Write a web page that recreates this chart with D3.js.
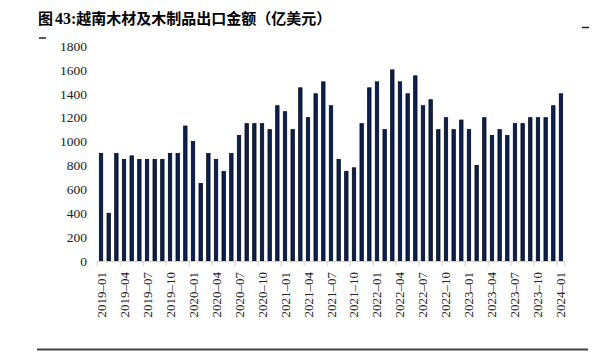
<!DOCTYPE html>
<html>
<head>
<meta charset="utf-8">
<script src="https://cdn.jsdelivr.net/npm/d3@7"></script>
<style>
    body { margin: 0; background: #fff; }
    #chart { width: 598px; height: 360px; }
</style>
</head>
<body>
<div id="chart"></div>
<script>

// months shown on the x axis (one bar per month)
let months = [
    "2019-01","2019-02","2019-03","2019-04","2019-05","2019-06","2019-07","2019-08","2019-09","2019-10","2019-11","2019-12",
    "2020-01","2020-02","2020-03","2020-04","2020-05","2020-06","2020-07","2020-08","2020-09","2020-10","2020-11","2020-12",
    "2021-01","2021-02","2021-03","2021-04","2021-05","2021-06","2021-07","2021-08","2021-09","2021-10","2021-11","2021-12",
    "2022-01","2022-02","2022-03","2022-04","2022-05","2022-06","2022-07","2022-08","2022-09","2022-10","2022-11","2022-12",
    "2023-01","2023-02","2023-03","2023-04","2023-05","2023-06","2023-07","2023-08","2023-09","2023-10","2023-11","2023-12",
    "2024-01"
];

// export value
let exportValues = [
    900, 400, 900, 850, 880, 850, 850, 850, 850, 900, 900, 1130,
    1000, 650, 900, 850, 750, 900, 1050, 1150, 1150, 1150, 1100, 1300,
    1250, 1100, 1450, 1200, 1400, 1500, 1300, 850, 750, 780, 1150, 1450,
    1500, 1100, 1600, 1500, 1400, 1550, 1300, 1350, 1100, 1200, 1100, 1180,
    1100, 800, 1200, 1050, 1100, 1050, 1150, 1150, 1200, 1200, 1200, 1300,
    1400
];

let yTicks = [0, 200, 400, 600, 800, 1000, 1200, 1400, 1600, 1800];

// every third month gets a label
let xLabels = months.filter((d, i) => i % 3 === 0);

let chartTitle = "越南木材及木制品出口金额（亿美元）";


class BarVis {

    constructor(parentElement, labels, values) {
        this.parentElement = parentElement;
        this.labels = labels;
        this.values = values;
        this.initVis();
    }

    initVis() {
        let vis = this;

        vis.width = 598;
        vis.height = 360;

        vis.svg = d3.select("#" + vis.parentElement).append("svg")
            .attr("width", vis.width)
            .attr("height", vis.height);

        // title
        let title = vis.svg.append("text")
            .attr("x", 38)
            .attr("y", 24)
            .style("font-family", "'Noto Sans CJK SC', sans-serif")
            .style("font-weight", "bold")
            .style("font-size", "15px")
            .attr("fill", "#000");
        title.append("tspan").text("图");
        title.append("tspan")
            .style("font-family", "'Liberation Serif', serif")
            .style("font-size", "16px")
            .attr("dx", 2)
            .text("43:");
        title.append("tspan").text(chartTitle);

        // little marks at the corners of the title block
        vis.svg.append("line")
            .attr("x1", 39).attr("x2", 46).attr("y1", 38).attr("y2", 38)
            .attr("stroke", "#222").attr("stroke-width", 1.5);
        vis.svg.append("line")
            .attr("x1", 582).attr("x2", 589).attr("y1", 27.5).attr("y2", 27.5)
            .attr("stroke", "#222").attr("stroke-width", 1.5);

        // bottom rule
        vis.svg.append("line")
            .attr("x1", 37).attr("x2", 588).attr("y1", 349.5).attr("y2", 349.5)
            .attr("stroke", "#444").attr("stroke-width", 2);

        vis.x = d3.scaleBand()
            .domain(vis.labels)
            .range([97.2, 564.8])
            .paddingInner(0.56)
            .paddingOuter(0.28);

        vis.y = d3.scaleLinear()
            .domain([0, 1800])
            .range([261, 46]);

        // y axis, labels only
        let yAxis = d3.axisLeft(vis.y)
            .tickValues(yTicks)
            .tickFormat(d3.format("d"))
            .tickSize(0)
            .tickPadding(0);

        vis.svg.append("g")
            .attr("transform", "translate(87,0)")
            .call(yAxis)
            .call(g => g.select(".domain").remove())
            .call(g => g.selectAll("text")
                .style("font-family", "'Liberation Serif', serif")
                .style("font-size", "13.5px")
                .attr("fill", "#222"));

        // bars
        vis.svg.append("g")
            .selectAll("rect")
            .data(vis.values)
            .enter().append("rect")
                .attr("x", (d, i) => vis.x(vis.labels[i]))
                .attr("y", d => vis.y(d))
                .attr("width", vis.x.bandwidth())
                .attr("height", d => vis.y(0) - vis.y(d))
                .attr("fill", "#0b2152")
                .attr("stroke", "#050a14")
                .attr("stroke-width", 0.8);

        // x axis baseline and ticks between every third month
        let step = vis.x.step();
        let x0 = vis.x.range()[0];
        vis.svg.append("line")
            .attr("x1", x0).attr("x2", vis.x.range()[1])
            .attr("y1", 261.5).attr("y2", 261.5)
            .attr("stroke", "#d0d0d0");

        let tickPos = d3.range(0, vis.labels.length + 1, 3).map(i => x0 + i * step);
        tickPos.push(vis.x.range()[1]);
        vis.svg.append("g")
            .selectAll("line")
            .data(tickPos)
            .enter().append("line")
                .attr("x1", d => d).attr("x2", d => d)
                .attr("y1", 261.5).attr("y2", 266)
                .attr("stroke", "#d0d0d0");

        // rotated month labels
        vis.svg.append("g")
            .selectAll("text")
            .data(xLabels)
            .enter().append("text")
                .attr("transform", d => `translate(${vis.x(d) + vis.x.bandwidth() / 2 + 4.5}, 272) rotate(-90)`)
                .attr("text-anchor", "end")
                .style("font-family", "'Liberation Serif', serif")
                .style("font-size", "13px")
                .attr("fill", "#222")
                .text(d => d.replace("-", "–"));
    }
}

new BarVis("chart", months, exportValues);

</script>
</body>
</html>
